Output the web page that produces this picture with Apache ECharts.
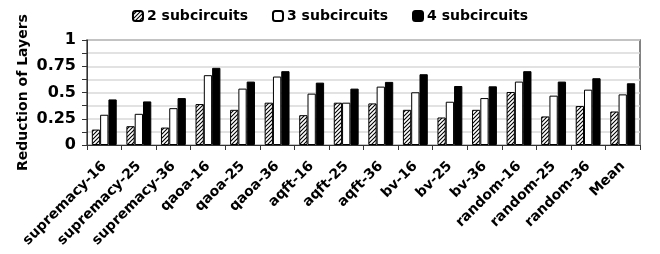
<!DOCTYPE html>
<html><head><meta charset="utf-8">
<script src="https://cdn.jsdelivr.net/npm/echarts@6/dist/echarts.min.js"></script>
<style>html,body{margin:0;padding:0;background:#fff}#c{width:660px;height:254px}</style>
</head><body><div id="c"></div>
<script>
const categories = ['supremacy-16','supremacy-25','supremacy-36','qaoa-16','qaoa-25','qaoa-36','aqft-16','aqft-25','aqft-36','bv-16','bv-25','bv-36','random-16','random-25','random-36','Mean'];
const seriesNames = ['2 subcircuits','3 subcircuits','4 subcircuits'];
const sub2 = [0.147,0.179,0.166,0.39,0.335,0.403,0.284,0.403,0.396,0.335,0.262,0.335,0.505,0.272,0.371,0.319];
const sub3 = [0.288,0.297,0.351,0.665,0.537,0.652,0.489,0.403,0.556,0.502,0.412,0.447,0.604,0.47,0.527,0.482];
const sub4 = [0.434,0.415,0.447,0.735,0.604,0.703,0.594,0.537,0.601,0.674,0.562,0.559,0.703,0.604,0.636,0.588];
const yTicks = ['0','0.25','0.5','0.75','1'];

function hatch(){
  const c = document.createElement('canvas');
  c.width = 4; c.height = 4;
  const g = c.getContext('2d');
  g.fillStyle = '#fff'; g.fillRect(0,0,4,4);
  g.strokeStyle = '#000'; g.lineWidth = 1.1;
  g.beginPath();
  g.moveTo(0,4); g.lineTo(4,0);
  g.moveTo(-1,1); g.lineTo(1,-1);
  g.moveTo(3,5); g.lineTo(5,3);
  g.stroke();
  return c;
}
const pat = {image: hatch(), repeat: 'repeat'};
const font = 'DejaVu Sans';
const chart = echarts.init(document.getElementById('c'));
const mk = (name, data, color) => ({
  name, type: 'bar', data, barGap: '0%', barCategoryGap: '28%',
  itemStyle: {color, borderColor: '#000', borderWidth: 1}
});
chart.setOption({
  animation: false,
  textStyle: {fontFamily: font},
  legend: {
    top: 4, left: 'center', itemWidth: 10, itemHeight: 10, itemGap: 24,
    textStyle: {fontFamily: font, fontWeight: 'bold', fontSize: 14, color: '#000', padding: [0,0,0,-1]},
    data: seriesNames
  },
  grid: {left: 87, right: 20, top: 40, bottom: 109, show: true, borderColor: '#595959', borderWidth: 1.5},
  xAxis: {
    type: 'category', data: categories,
    axisLine: {lineStyle: {color: '#333', width: 1}},
    axisTick: {show: true, length: 5, lineStyle: {color: '#333'}},
    axisLabel: {rotate: 45, interval: 0, fontFamily: font, fontWeight: 'bold', fontSize: 14, color: '#000', margin: 19}
  },
  yAxis: {
    type: 'value', min: 0, max: 1, interval: 0.125,
    name: 'Reduction of Layers', nameLocation: 'middle', nameGap: 57, nameMoveOverlap: false,
    nameTextStyle: {fontFamily: font, fontWeight: 'bold', fontSize: 14, color: '#000'},
    axisLine: {show: true, lineStyle: {color: '#333', width: 1}},
    axisTick: {show: true, length: 5, lineStyle: {color: '#333'}},
    splitLine: {lineStyle: {color: '#d9d9d9', width: 1.5}},
    axisLabel: {
      fontFamily: font, fontWeight: 'bold', fontSize: 16, color: '#000', margin: 11,
      formatter: v => { const i = Math.round(v/0.25*1000)/1000; return Number.isInteger(i) ? yTicks[i] : ''; }
    }
  },
  series: [mk(seriesNames[0], sub2, pat), mk(seriesNames[1], sub3, '#fff'), mk(seriesNames[2], sub4, '#000')]
});
</script></body></html>
